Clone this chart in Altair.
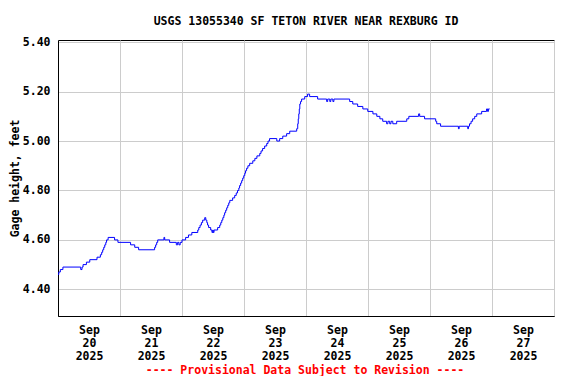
import altair as alt
import pandas as pd

TITLE = "USGS 13055340 SF TETON RIVER NEAR REXBURG ID"
Y_TITLE = "Gage height, feet"
FOOTER = "---- Provisional Data Subject to Revision ----"

# hours after 2025-09-20 00:00 at which the reading changes (step series)
hours = [0.0, 0.3, 0.9, 1.9, 8.8, 9.3, 9.7, 11.0, 12.3, 15.1, 16.4, 16.9, 17.3, 17.7,
         18.1, 18.5, 18.8, 19.4, 21.9, 23.2, 28.1, 29.7, 31.2, 37.4, 37.8, 38.2, 38.6,
         41.0, 41.3, 43.2, 45.8, 46.3, 46.8, 47.3, 48.0, 49.4, 50.5, 51.8, 54.1, 54.5,
         55.0, 55.5, 56.0, 56.8, 57.2, 57.6, 57.9, 58.3, 59.1, 59.6, 59.9, 60.1, 60.4,
         61.8, 62.6, 63.0, 63.4, 63.8, 64.2, 64.5, 64.9, 65.3, 65.7, 66.1, 66.5, 67.6,
         68.4, 69.0, 69.5, 70.0, 70.3, 70.7, 71.1, 71.5, 71.9, 72.3, 72.6, 73.0, 73.5,
         74.2, 75.4, 76.2, 77.0, 78.1, 78.6, 79.2, 80.0, 80.8, 81.3, 81.9, 84.7, 85.8,
         87.0, 88.5, 89.7, 92.4, 92.8, 93.0, 93.2, 93.4, 93.6, 93.9, 94.3, 95.5, 96.6,
         97.4, 100.5, 104.0, 104.4, 105.2, 105.6, 106.4, 106.8, 112.9, 114.1, 116.0,
         118.0, 119.9, 121.9, 123.4, 124.6, 125.7, 127.2, 127.7, 128.4, 128.9, 129.6,
         131.1, 135.0, 135.8, 139.6, 140.0, 141.9, 146.2, 146.6, 148.1, 155.0, 155.3,
         158.6, 158.9, 159.3, 159.9, 160.5, 161.3, 162.1, 164.0, 165.9, 166.3, 166.6,
         167.1]
stage = [4.46, 4.47, 4.48, 4.49, 4.48, 4.49, 4.50, 4.51, 4.52, 4.53, 4.54, 4.55, 4.56, 4.57,
         4.58, 4.59, 4.60, 4.61, 4.60, 4.59, 4.58, 4.57, 4.56, 4.57, 4.58, 4.59, 4.60,
         4.61, 4.60, 4.59, 4.58, 4.59, 4.58, 4.59, 4.60, 4.61, 4.62, 4.63, 4.64, 4.65,
         4.66, 4.67, 4.68, 4.69, 4.68, 4.67, 4.66, 4.65, 4.64, 4.63, 4.64, 4.63, 4.64,
         4.65, 4.66, 4.67, 4.68, 4.69, 4.70, 4.71, 4.72, 4.73, 4.74, 4.75, 4.76, 4.77,
         4.78, 4.79, 4.80, 4.81, 4.82, 4.83, 4.84, 4.85, 4.86, 4.87, 4.88, 4.89, 4.90,
         4.91, 4.92, 4.93, 4.94, 4.95, 4.96, 4.97, 4.98, 4.99, 5.00, 5.01, 5.00, 5.01,
         5.02, 5.03, 5.04, 5.05, 5.07, 5.09, 5.11, 5.13, 5.15, 5.16, 5.17, 5.18, 5.19,
         5.18, 5.17, 5.16, 5.17, 5.16, 5.17, 5.16, 5.17, 5.16, 5.15, 5.14,
         5.13, 5.12, 5.11, 5.10, 5.09, 5.08, 5.07, 5.08, 5.07, 5.08, 5.07,
         5.08, 5.09, 5.10, 5.11, 5.10, 5.09, 5.08, 5.07, 5.06, 5.05, 5.06,
         5.05, 5.06, 5.07, 5.08, 5.09, 5.10, 5.11, 5.12, 5.13, 5.12, 5.13,
         5.13]

y_ticks = [4.40, 4.60, 4.80, 5.00, 5.20, 5.40]
y_domain = [4.292, 5.409]
day_dates = [20, 21, 22, 23, 24, 25, 26, 27, 28]

df = pd.DataFrame({
    "time": pd.Timestamp("2025-09-20 00:00") + pd.to_timedelta(hours, unit="h"),
    "stage": stage,
})
note_df = pd.DataFrame({"note": [FOOTER]})

FONT = "DejaVu Sans Mono"
W, H = 496, 276

x_axis = alt.Axis(
    values=[alt.DateTime(year=2025, month=9, date=d) for d in day_dates],
    labelExpr="datum.value >= datetime(2025, 8, 28) ? '' : "
              "[timeFormat(datum.value, '%b'), timeFormat(datum.value, '%d'), timeFormat(datum.value, '%Y')]",
    labelOffset=31,
    labelAlign="center",
    labelBaseline="top",
    labelLineHeight=13,
    labelPadding=8,
    ticks=False,
    tickSize=0,
    grid=True,
    title=None,
    labelFlush=False,
    labelOverlap=False,
)

line = alt.Chart(df).mark_line(
    interpolate="step-after", color="#0000ff", strokeWidth=1
).encode(
    x=alt.X("time:T", axis=x_axis,
            scale=alt.Scale(domain=[alt.DateTime(year=2025, month=9, date=20),
                                    alt.DateTime(year=2025, month=9, date=28)], nice=False)),
    y=alt.Y("stage:Q",
            scale=alt.Scale(domain=y_domain, nice=False, zero=False),
            axis=alt.Axis(values=y_ticks, format=".2f", grid=True, ticks=False, tickSize=0,
                          labelPadding=8, title=Y_TITLE, titleAngle=270,
                          titleX=-43, titleY=H / 2, titleAlign="center",
                          titleBaseline="middle")),
)

footer = alt.Chart(note_df).mark_text(
    font=FONT, fontSize=11.5, fontWeight="bold", color="#ff0000",
    align="center", baseline="middle"
).encode(
    x=alt.value(W / 2 - 1),
    y=alt.value(331),
    text="note:N",
)

chart = alt.layer(line, footer).properties(
    width=W,
    height=H,
    title=alt.TitleParams(TITLE, font=FONT, fontSize=11.5, fontWeight="bold",
                          anchor="middle", baseline="bottom", offset=14, dy=16,
                          color="#000000"),
    autosize=alt.AutoSizeParams(type="none"),
    padding={"left": 50, "top": 32, "right": 14, "bottom": 60},
).configure_view(
    stroke="#000000", strokeWidth=1
).configure_axis(
    labelFont=FONT, labelFontSize=11.5, labelFontWeight="bold", labelColor="#000000",
    titleFont=FONT, titleFontSize=11.5, titleFontWeight="bold", titleColor="#000000",
    gridColor="#cccccc", gridWidth=1, gridOpacity=1,
    domainColor="#000000", domainWidth=1,
)

chart.save("out.html", embed_options={"renderer": "svg", "actions": False})
